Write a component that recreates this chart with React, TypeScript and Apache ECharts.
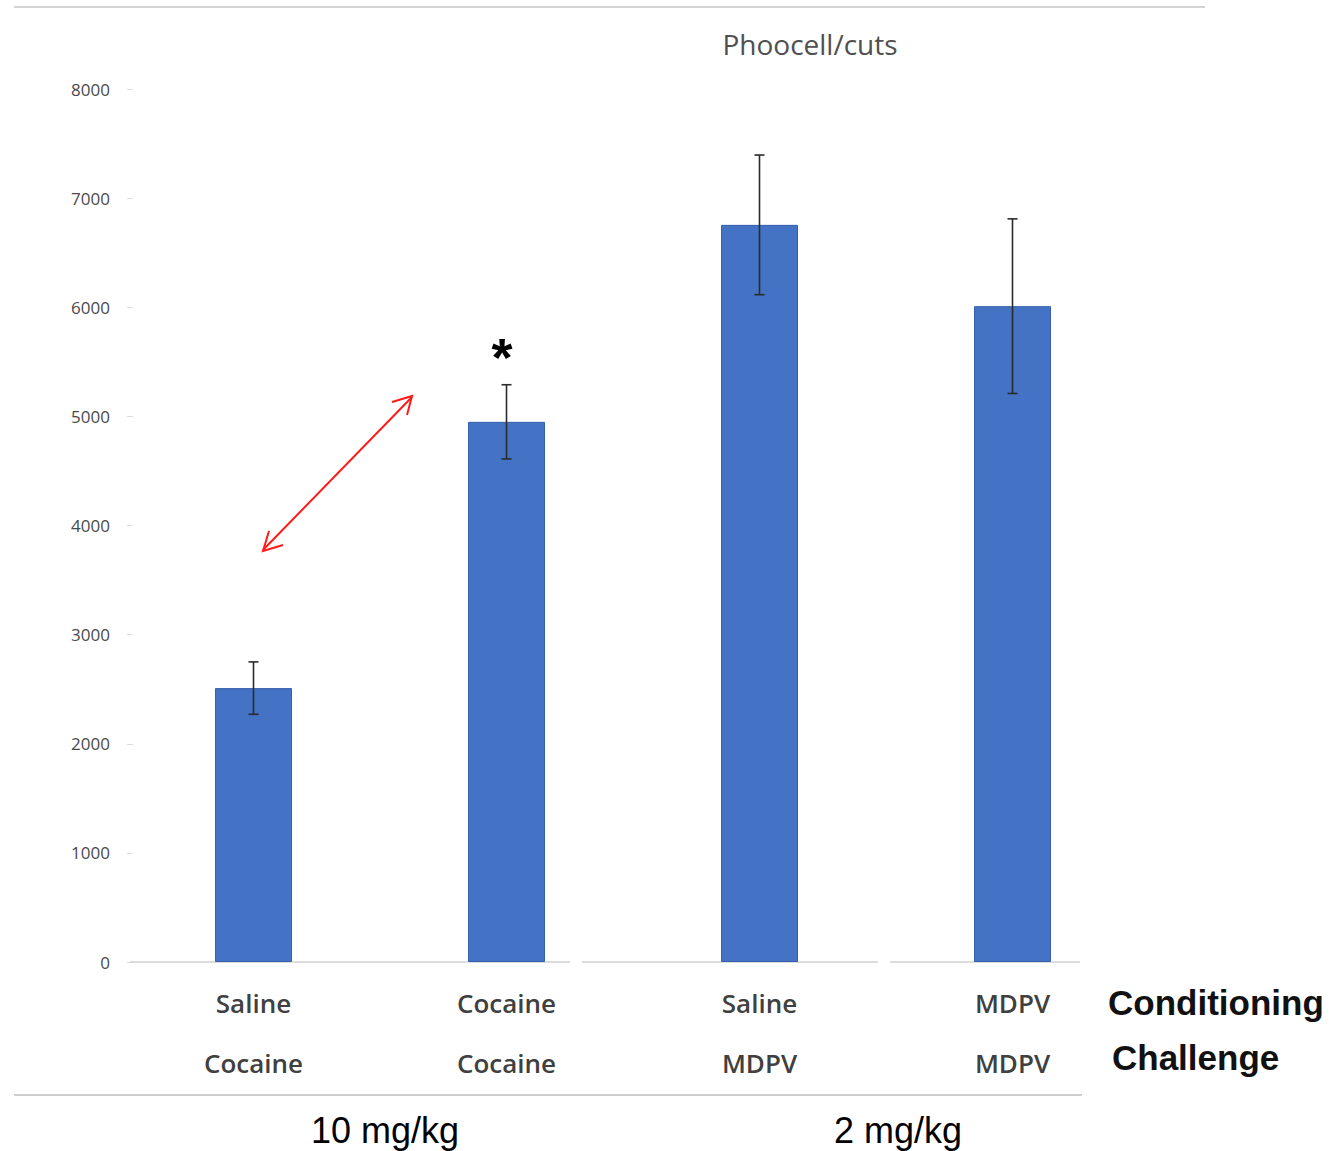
import React, { useEffect, useRef } from "react";
import * as echarts from "echarts";

const conditioning = ["Saline", "Cocaine", "Saline", "MDPV"];
const challenge = ["Cocaine", "Cocaine", "MDPV", "MDPV"];
const means = [2510, 4950, 6755, 6010];
const errors = [240, 340, 640, 800];
const yTicks = { min: 0, max: 8000, interval: 1000 };
const doses = ["10 mg/kg", "2 mg/kg"];
const titleText = "Phoocell/cuts";

export default function App() {
  const ref = useRef<HTMLDivElement>(null);
  useEffect(() => {
    if (!ref.current) return;
    const chart = echarts.init(ref.current, null, { renderer: "svg" });
    const errData = means.map((m, i) => [i, m - errors[i], m + errors[i]]);
    const red = "#ff1a1a";
    const option: any = {
      animation: false,
      backgroundColor: "#ffffff",
      grid: { left: 127, right: 193, top: 89, bottom: 189, containLabel: false },
      xAxis: {
        type: "category",
        data: conditioning,
        axisLine: { show: false },
        axisTick: { show: false },
        axisLabel: {
          interval: 0,
          margin: 11,
          verticalAlign: "top",
          lineHeight: 60,
          fontFamily: "Open Sans",
          fontWeight: 600,
          fontSize: 26,
          color: "#404040",
          formatter: (v: string, i: number) => `${conditioning[i]}\n${challenge[i]}`,
        },
      },
      yAxis: {
        type: "value",
        min: yTicks.min,
        max: yTicks.max,
        interval: yTicks.interval,
        axisLine: { show: false },
        axisTick: { show: true, inside: true, length: 6, lineStyle: { color: "#dcdcdc" } },
        splitLine: { show: false },
        axisLabel: {
          margin: 17,
          fontFamily: "Open Sans",
          fontSize: 17,
          color: "#4a4a4a",
          formatter: (v: number) => String(v),
        },
      },
      series: [
        {
          type: "bar",
          data: means,
          barWidth: 77,
          itemStyle: { color: "#4472C4", borderColor: "#3560ad", borderWidth: 1 },
          z: 2,
        },
        {
          type: "custom",
          data: errData,
          z: 5,
          renderItem: (params: any, api: any) => {
            const x = api.value(0);
            const lo = api.coord([x, api.value(1)]);
            const hi = api.coord([x, api.value(2)]);
            const cap = 5;
            const style = { stroke: "#2b2b2b", lineWidth: 1.6 };
            return {
              type: "group",
              children: [
                { type: "line", shape: { x1: lo[0], y1: lo[1], x2: hi[0], y2: hi[1] }, style },
                { type: "line", shape: { x1: hi[0] - cap, y1: hi[1], x2: hi[0] + cap, y2: hi[1] }, style },
                { type: "line", shape: { x1: lo[0] - cap, y1: lo[1], x2: lo[0] + cap, y2: lo[1] }, style },
              ],
            };
          },
        },
      ],
      graphic: [
        { type: "line", shape: { x1: 14, y1: 7, x2: 1205, y2: 7 }, style: { stroke: "#d4d4d4", lineWidth: 2 } },
        { type: "line", shape: { x1: 14, y1: 1095, x2: 1082, y2: 1095 }, style: { stroke: "#cfcfcf", lineWidth: 2 } },
        { type: "line", shape: { x1: 130, y1: 962, x2: 570, y2: 962 }, style: { stroke: "#d0d0d0", lineWidth: 1.5 } },
        { type: "line", shape: { x1: 582, y1: 962, x2: 878, y2: 962 }, style: { stroke: "#d0d0d0", lineWidth: 1.5 } },
        { type: "line", shape: { x1: 890, y1: 962, x2: 1080, y2: 962 }, style: { stroke: "#d0d0d0", lineWidth: 1.5 } },
        {
          type: "text",
          x: 810,
          y: 44,
          style: { text: titleText, fontFamily: "Open Sans", fontSize: 28, fill: "#505050", align: "center", verticalAlign: "middle" },
        },
        {
          type: "text",
          x: 1108,
          y: 1002,
          style: { text: "Conditioning", fontFamily: "Liberation Sans", fontWeight: "bold", fontSize: 35, fill: "#111", align: "left", verticalAlign: "middle" },
        },
        {
          type: "text",
          x: 1112,
          y: 1057,
          style: { text: "Challenge", fontFamily: "Liberation Sans", fontWeight: "bold", fontSize: 35, fill: "#111", align: "left", verticalAlign: "middle" },
        },
        {
          type: "text",
          x: 385,
          y: 1130,
          style: { text: doses[0], fontFamily: "Liberation Sans", fontSize: 36, fill: "#000", align: "center", verticalAlign: "middle" },
        },
        {
          type: "text",
          x: 898,
          y: 1130,
          style: { text: doses[1], fontFamily: "Liberation Sans", fontSize: 36, fill: "#000", align: "center", verticalAlign: "middle" },
        },
        {
          type: "text",
          x: 502,
          y: 357,
          style: { text: "*", fontFamily: "Liberation Sans", fontWeight: "bold", fontSize: 54, fill: "#000", align: "center", verticalAlign: "middle" },
        },
        { type: "line", shape: { x1: 263, y1: 550, x2: 412, y2: 397 }, style: { stroke: red, lineWidth: 2 } },
        { type: "polyline", shape: { points: [[392, 402], [412, 396], [407, 415]] }, style: { stroke: red, lineWidth: 2, fill: null } },
        { type: "polyline", shape: { points: [[283, 545], [263, 551], [269, 531]] }, style: { stroke: red, lineWidth: 2, fill: null } },
      ],
    };
    chart.setOption(option);
    return () => chart.dispose();
  }, []);
  return <div ref={ref} style={{ position: "absolute", left: 0, top: 0, width: 1332, height: 1151 }} />;
}
